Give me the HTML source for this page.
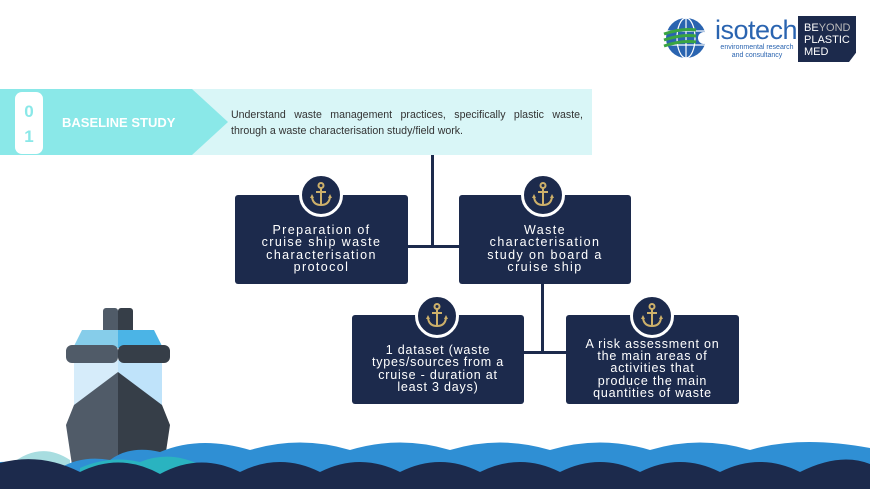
<!DOCTYPE html>
<html><head><meta charset="utf-8"><style>
*{margin:0;padding:0;box-sizing:border-box}
body{width:870px;height:489px;background:#fff;position:relative;overflow:hidden;font-family:"Liberation Sans",sans-serif}
.a{position:absolute}
.box{position:absolute;background:#1c2a4c;border-radius:3px;color:#fff;font-size:12.5px;line-height:12.3px;letter-spacing:1.4px;text-align:center;display:flex;align-items:center;justify-content:center;padding:18px 4px 0;white-space:nowrap}
.circ{position:absolute;width:44px;height:44px;border-radius:50%;background:#1c2a4c;border:3px solid #fff;display:flex;align-items:center;justify-content:center}
.ln{position:absolute;background:#1c2a4c}
</style></head><body>
<!-- logo -->
<svg class="a" style="left:662px;top:16px" width="50" height="44" viewBox="0 0 50 44">
<circle cx="24" cy="22" r="20" fill="#2a64b0"/>
<g stroke="#fff" stroke-width="1.2" fill="none"><ellipse cx="24" cy="22" rx="9" ry="20"/><line x1="24" y1="2" x2="24" y2="42"/><line x1="4" y1="15" x2="44" y2="15"/><line x1="4" y1="29" x2="44" y2="29"/></g>
<g stroke="#3aa542" stroke-width="3" fill="none"><path d="M2 18 Q20 12 34 14"/><path d="M2 24 Q20 18 34 20"/><path d="M2 30 Q20 24 34 26"/></g>
<circle cx="42" cy="22" r="6" fill="#fff"/></svg>
<div class="a" style="left:715px;top:16px;font-size:27px;color:#2a64b0;line-height:28px;letter-spacing:-0.5px">isotech</div>
<div class="a" style="left:717px;top:44px;font-size:7px;color:#2a64b0;line-height:8px;text-align:center;width:80px">environmental research<br>and consultancy</div>
<div class="a" style="left:798px;top:16px;width:58px;height:46px;background:#1c2a4c;color:#fff;font-size:11px;line-height:12px;padding:6px 0 0 6px;clip-path:polygon(0 0,100% 0,100% 80%,88% 100%,0 100%)">BE<span style="color:#bbb">YOND</span><br>PLASTIC<br>MED</div>
<!-- banner -->
<div class="a" style="left:0;top:89px;width:592px;height:66px;background:#d9f6f7"></div>
<div class="a" style="left:0;top:89px;width:228px;height:66px;background:#8ae8e8;clip-path:polygon(0 0,192px 0,228px 33px,192px 66px,0 66px)"></div>
<div class="a" style="left:15px;top:92px;width:28px;height:62px;background:#fff;border-radius:7px"></div>
<div class="a" style="left:15px;top:99px;width:28px;text-align:center;color:#8ae8e8;font-weight:bold;font-size:17px;line-height:25px">0<br>1</div>
<div class="a" style="left:62px;top:115px;color:#fff;font-weight:bold;font-size:13px">BASELINE STUDY</div>
<div class="a" style="left:231px;top:107px;width:352px;color:#333;font-size:10.6px;line-height:16px;text-align:justify;text-align-last:left">Understand waste management practices, specifically plastic waste, through a waste characterisation study/field work.</div>
<!-- connectors -->
<div class="ln" style="left:431px;top:155px;width:3px;height:92px"></div>
<div class="ln" style="left:408px;top:245px;width:52px;height:3px"></div>
<div class="ln" style="left:541px;top:283px;width:3px;height:71px"></div>
<div class="ln" style="left:523px;top:351px;width:44px;height:3px"></div>
<!-- boxes -->
<div class="box" style="left:235px;top:195px;width:173px;height:89px">Preparation of<br>cruise ship waste<br>characterisation<br>protocol</div>
<div class="box" style="left:459px;top:195px;width:172px;height:89px">Waste<br>characterisation<br>study on board a<br>cruise ship</div>
<div class="box" style="left:352px;top:315px;width:172px;height:89px;letter-spacing:0.8px">1 dataset (waste<br>types/sources from a<br>cruise - duration at<br>least 3 days)</div>
<div class="box" style="left:566px;top:315px;width:173px;height:89px;letter-spacing:0.8px">A risk assessment on<br>the main areas of<br>activities that<br>produce the main<br>quantities of waste</div>
<!-- circles -->
<div class="circ" style="left:299px;top:173px"><svg width="24" height="26" viewBox="0 0 24 26"><g stroke="#cdb06a" stroke-width="2" fill="none"><circle cx="12" cy="3.5" r="2.5"/><line x1="12" y1="6" x2="12" y2="23"/><line x1="7" y1="10" x2="17" y2="10"/><path d="M3 15 Q4 23 12 23 Q20 23 21 15"/></g><path d="M1 16 L3 12 L5 16Z M19 16 L21 12 L23 16Z" fill="#cdb06a"/></svg></div>
<div class="circ" style="left:521px;top:173px"><svg width="24" height="26" viewBox="0 0 24 26"><g stroke="#cdb06a" stroke-width="2" fill="none"><circle cx="12" cy="3.5" r="2.5"/><line x1="12" y1="6" x2="12" y2="23"/><line x1="7" y1="10" x2="17" y2="10"/><path d="M3 15 Q4 23 12 23 Q20 23 21 15"/></g><path d="M1 16 L3 12 L5 16Z M19 16 L21 12 L23 16Z" fill="#cdb06a"/></svg></div>
<div class="circ" style="left:415px;top:294px"><svg width="24" height="26" viewBox="0 0 24 26"><g stroke="#cdb06a" stroke-width="2" fill="none"><circle cx="12" cy="3.5" r="2.5"/><line x1="12" y1="6" x2="12" y2="23"/><line x1="7" y1="10" x2="17" y2="10"/><path d="M3 15 Q4 23 12 23 Q20 23 21 15"/></g><path d="M1 16 L3 12 L5 16Z M19 16 L21 12 L23 16Z" fill="#cdb06a"/></svg></div>
<div class="circ" style="left:630px;top:294px"><svg width="24" height="26" viewBox="0 0 24 26"><g stroke="#cdb06a" stroke-width="2" fill="none"><circle cx="12" cy="3.5" r="2.5"/><line x1="12" y1="6" x2="12" y2="23"/><line x1="7" y1="10" x2="17" y2="10"/><path d="M3 15 Q4 23 12 23 Q20 23 21 15"/></g><path d="M1 16 L3 12 L5 16Z M19 16 L21 12 L23 16Z" fill="#cdb06a"/></svg></div>
<!-- ship + waves -->
<svg class="a" style="left:0;top:300px" width="870" height="189" viewBox="0 0 870 189">
<rect x="103" y="8" width="15" height="25" rx="3" fill="#505b68"/><rect x="118" y="8" width="15" height="25" rx="3" fill="#363e48"/>
<path d="M82 30 L118 30 L118 48 L73 48Z" fill="#86cdea"/><path d="M118 30 L154 30 L163 48 L118 48Z" fill="#4bb4e6"/>
<rect x="74" y="60" width="44" height="50" fill="#d6ecfa"/><rect x="118" y="60" width="44" height="50" fill="#bfe3fa"/>
<rect x="66" y="45" width="52" height="18" rx="6" fill="#505b68"/><rect x="118" y="45" width="52" height="18" rx="6" fill="#363e48"/>
<path d="M118 72 L74 105 L66 125 L72 165 L118 165Z" fill="#505b68"/><path d="M118 72 L162 105 L170 125 L164 165 L118 165Z" fill="#363e48"/>
<path d="M10 165 Q40 140 70 160 L70 189 L10 189Z" fill="#a8dde0"/>
<path d="M0 189 L0 162 Q30 160 60 168 Q82 155 110 160 Q130 145 160 152 Q200 135 250 150 Q300 135 350 150 Q400 135 450 150 Q500 135 550 150 Q600 135 650 150 Q700 135 750 150 Q800 135 870 148 L870 189Z" fill="#2f8fd4"/>
<path d="M80 168 Q110 155 140 162 Q170 150 200 165 L200 189 L80 189Z" fill="#2ab3c0"/>
<path d="M0 189 L0 163 Q40 152 80 172 Q120 152 160 174 Q200 152 240 172 Q280 152 320 172 Q360 152 400 172 Q440 152 480 172 Q520 152 560 172 Q600 152 640 172 Q680 152 720 172 Q760 152 800 172 Q840 152 870 164 L870 189Z" fill="#1c2a4c"/>
</svg>
</body></html>
